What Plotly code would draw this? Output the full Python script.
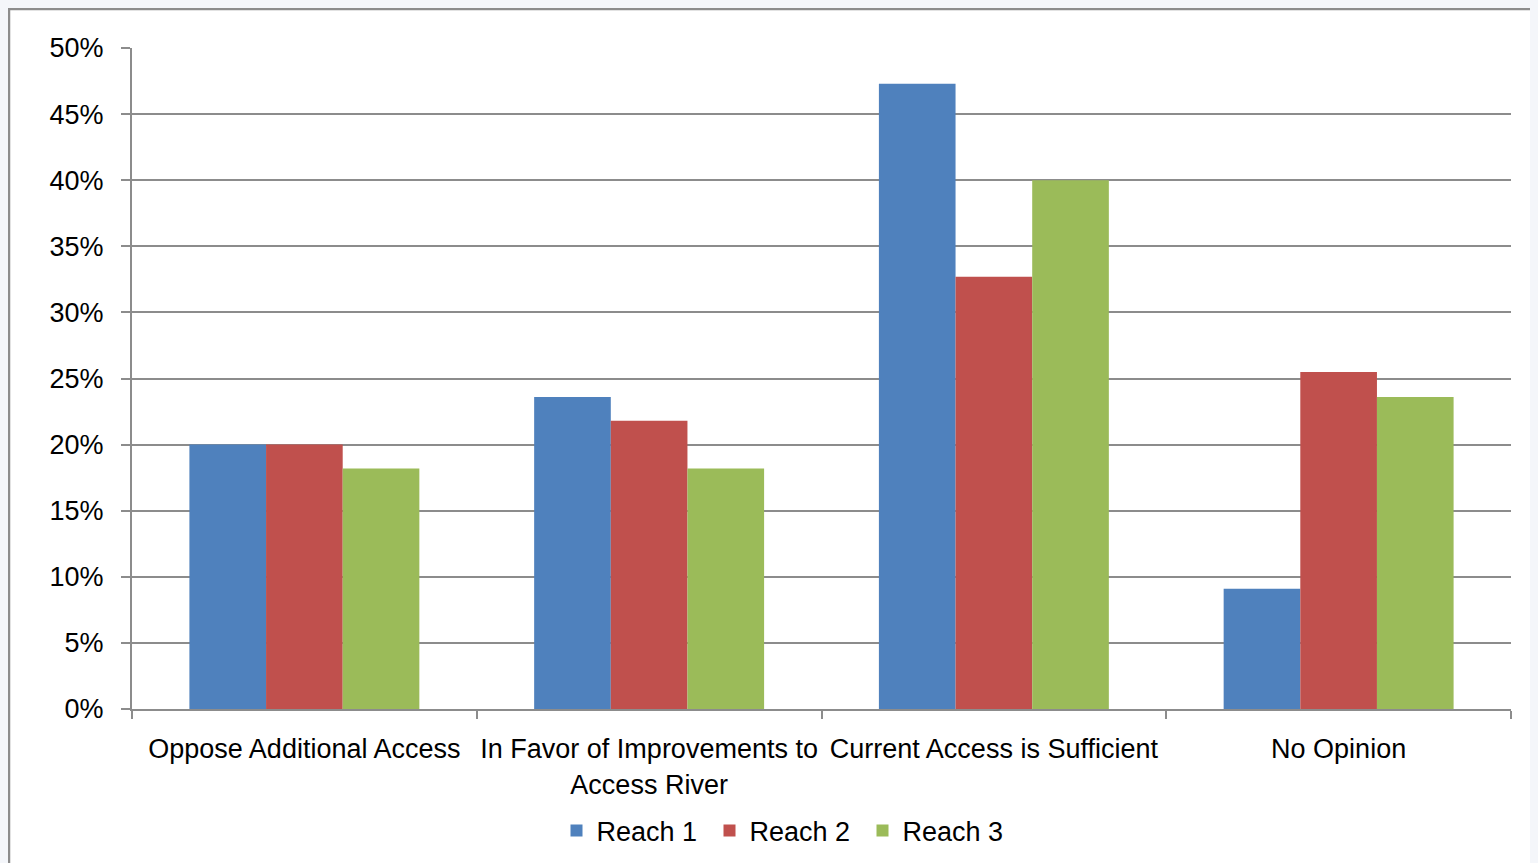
import plotly.graph_objects as go

categories = ["Oppose Additional Access", "In Favor of Improvements to<br>Access River",
              "Current Access is Sufficient", "No Opinion"]
reach1 = [20.0, 23.6, 47.3, 9.1]
reach2 = [20.0, 21.8, 32.7, 25.5]
reach3 = [18.2, 18.2, 40.0, 23.6]
series_names = ["Reach 1", "Reach 2", "Reach 3"]
colors = ["#4F81BD", "#C0504D", "#9BBB59"]
yticks = [0, 5, 10, 15, 20, 25, 30, 35, 40, 45, 50]
ytick_labels = [f"{v}%" for v in yticks]

FONT = "Liberation Sans, Arial, sans-serif"
FS = 27
GRID = "#8c8c8c"

fig = go.Figure()
for name, vals, c in zip(series_names, [reach1, reach2, reach3], colors):
    fig.add_trace(go.Bar(x=categories, y=vals, name=name, marker=dict(color=c, line=dict(width=0))))

# page has an 8px body margin, so the figure is offset by 8px
W, H = 1530, 855
L, R, T, B = 124, 27, 40, 154
pw, ph = W - L - R, H - T - B

def px(xpix):
    return (xpix - L) / pw

def py(ypix):
    return (H - B - ypix) / ph

fig.add_shape(type="rect", xref="paper", yref="paper",
              x0=px(1), x1=px(1560), y0=py(880), y1=py(1),
              fillcolor="white", line=dict(color="#8c8c8c", width=2.5), layer="below")

fig.update_layout(
    width=W, height=H,
    margin=dict(l=L, r=R, t=T, b=B, autoexpand=False),
    paper_bgcolor="#f4f6fa",
    plot_bgcolor="rgba(0,0,0,0)",
    barmode="group", bargap=0.333, bargroupgap=0,
    font=dict(family=FONT, size=FS, color="black"),
    showlegend=True,
    legend=dict(orientation="h", xref="container", yref="container",
                x=778 / W, xanchor="center", y=1 - 823 / H, yanchor="middle",
                font=dict(family=FONT, size=FS), bgcolor="rgba(0,0,0,0)",
                entrywidth=108, entrywidthmode="pixels", tracegroupgap=0),
    xaxis=dict(type="category", showline=True, linecolor=GRID, linewidth=2,
               ticks="outside", ticklen=8, tickcolor=GRID, tickwidth=2,
               tickson="boundaries", showgrid=False, tickangle=0, automargin=False,
               ticklabelstandoff=15,
               tickfont=dict(family=FONT, size=FS)),
    yaxis=dict(range=[0, 50], tickvals=yticks, ticktext=ytick_labels,
               showline=True, linecolor=GRID, linewidth=2,
               ticks="outside", ticklen=9, tickcolor=GRID, tickwidth=2,
               showgrid=True, gridcolor=GRID, gridwidth=2, zeroline=False,
               ticklabelstandoff=12, automargin=False,
               tickfont=dict(family=FONT, size=FS)),
)

fig.write_html("out.html", post_script="document.body.style.background='#f4f6fa';")
